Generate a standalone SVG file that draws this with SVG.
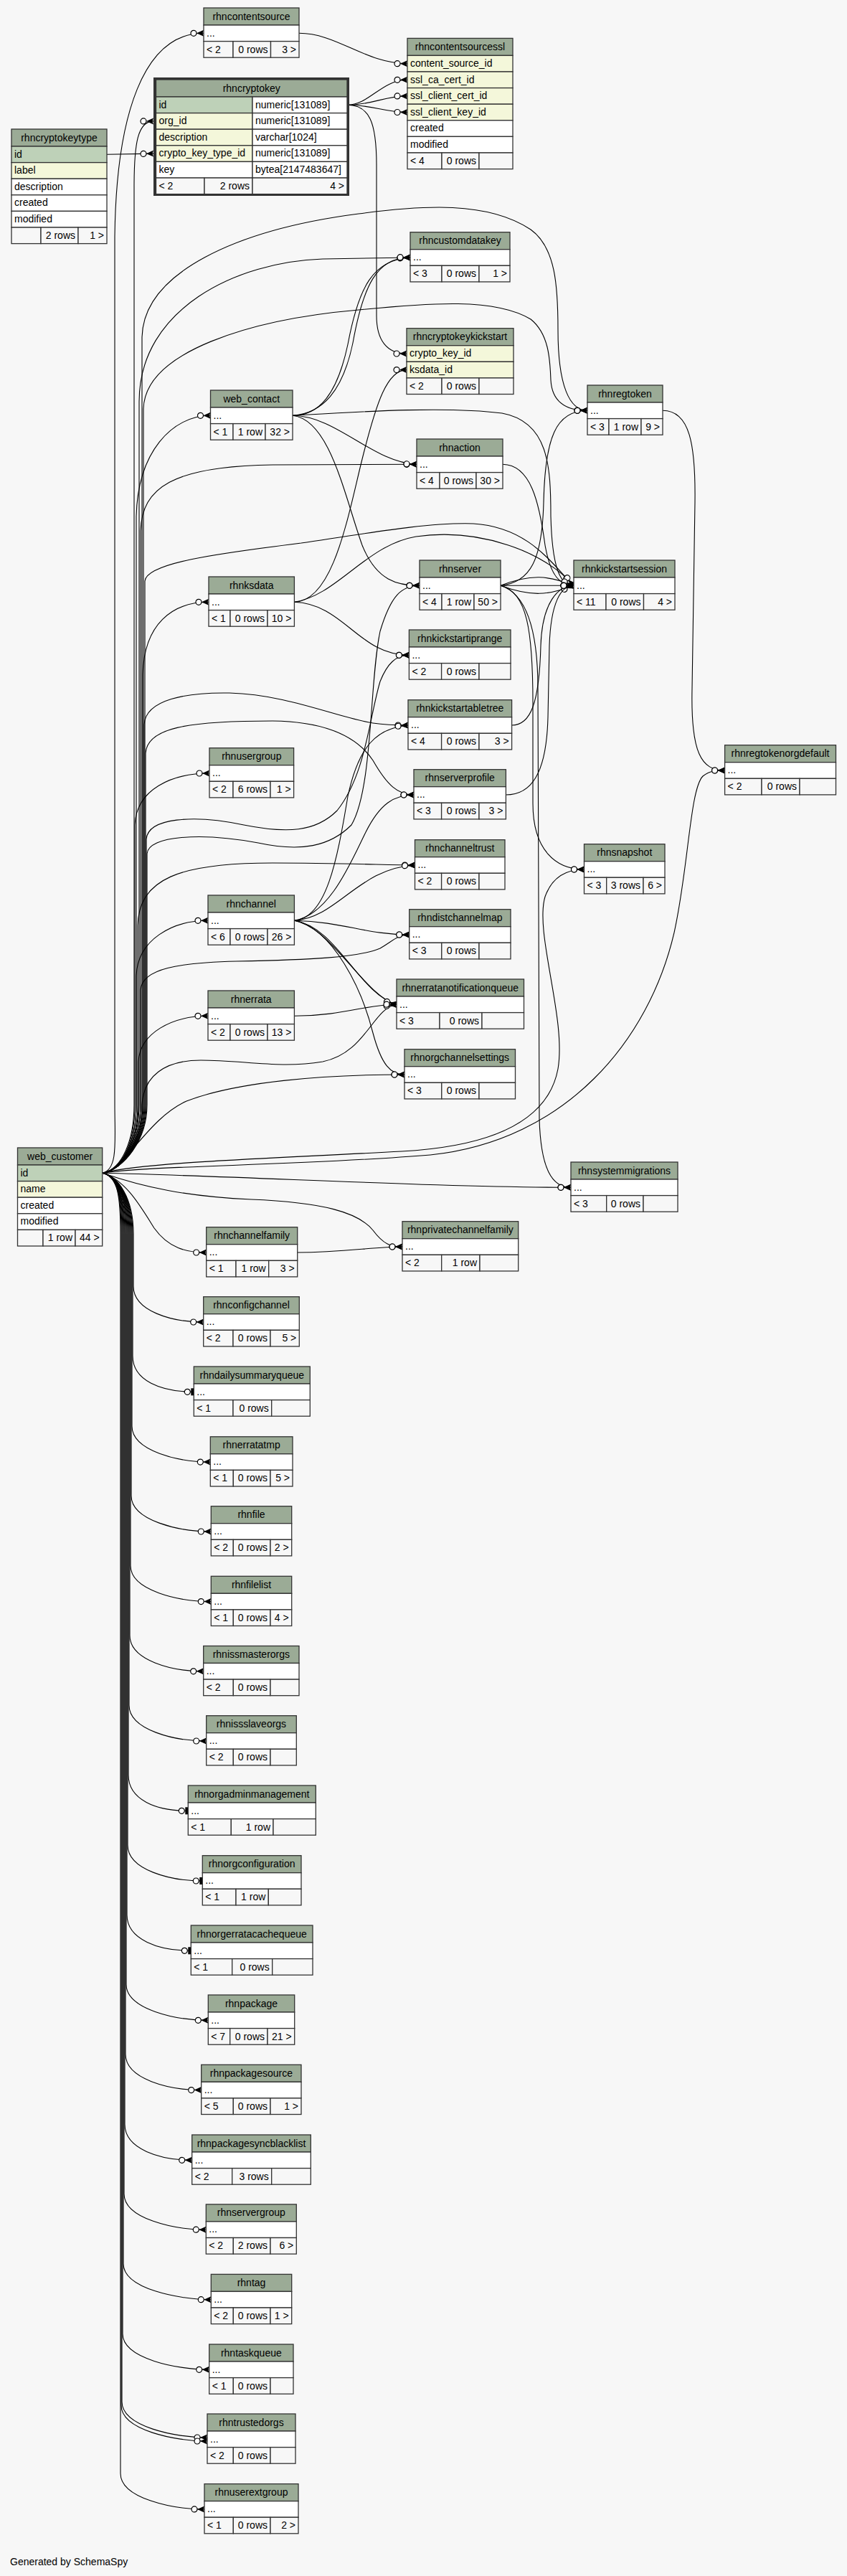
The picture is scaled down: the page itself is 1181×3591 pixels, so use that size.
<svg xmlns="http://www.w3.org/2000/svg" width="1181" height="3591" viewBox="0 0 1181 3591">
<style>
text{font-family:"Liberation Sans",Arial,Helvetica,sans-serif;font-size:14px;fill:#000}
.c{text-anchor:middle}
.n{text-anchor:end}
.h,.pk,.fk,.r,.f{stroke:#333;stroke-width:1.3}
.h{fill:#9bab96}
.pk{fill:#bed1b8}
.fk{fill:#f4f7da}
.r{fill:#fff}
.f{fill:#f7f7f7}
.e{fill:none;stroke:#000;stroke-width:1.1;marker-end:url(#crow)}
.t{marker-end:url(#tee)}
</style>
<defs>
<marker id="crow" viewBox="-20 -6 21 12" refX="0" refY="0" markerWidth="21" markerHeight="12" markerUnits="userSpaceOnUse" orient="auto">
<circle cx="-14" cy="0" r="4" fill="#fff" stroke="#000" stroke-width="1.2"/>
<polygon points="0,-4.5 -10,0 0,4.5 -1.5,0" fill="#000"/>
</marker>
<marker id="tee" viewBox="-20 -6 21 12" refX="0" refY="0" markerWidth="21" markerHeight="12" markerUnits="userSpaceOnUse" orient="auto">
<circle cx="-9" cy="0" r="4" fill="#fff" stroke="#000" stroke-width="1.2"/>
<rect x="-4" y="-5" width="4" height="10" fill="#000"/>
</marker>
</defs>
<rect x="0" y="0" width="1181" height="3591" fill="#f7f7f7"/>

<g id="connectors">
<path class="e" d="M417,46.3 C470,46.3 510,88.7 568,88.7"/>
<path class="e" d="M484,146.3 C515,146.3 532,111.3 568,111.3"/>
<path class="e" d="M484,146.3 C520,146.3 535,133.9 568,133.9"/>
<path class="e" d="M484,146.3 C520,146.3 535,156.5 568,156.5"/>
<path class="e" d="M484,146.3 C515,146.3 525,170 525,230 L525,440 C525,475 540,493 567,493"/>
<path class="e" d="M149,215.3 L214,214.1"/>
<path class="e" d="M143,1635.3 C165,1630 160,1590 160,1540 L160,330 C162,160 200,46.3 284,46.3"/>
<path class="e" d="M143,1635.3 C170,1630 187,1590 187,1540 L187,260 C187,200 192,168.9 214,168.9"/>
<path class="e" d="M143,1635.3 C172,1630 194,1590 194,1540 L194,560 C194,430 330,365 450,361 L572,359"/>
<path class="e" d="M143,1635.3 C172,1630 198,1590 198,1540 L198,470 C200,380 330,320 500,298 C590,286 680,280 740,320 C775,345 778,400 778,460 C778,540 795,572.3 819,572.3"/>
<path class="e" d="M143,1635.3 C172,1630 200,1590 200,1540 L200,570 C202,490 350,445 500,432 C600,422 690,415 740,445 C765,465 767,500 768,530 C770,565 795,572.3 819,572.3"/>
<path class="e" d="M143,1635.3 C172,1630 190,1590 190,1540 L190,720 C192,630 240,579.3 293.5,579.3"/>
<path class="e" d="M143,1635.3 C172,1630 196,1590 196,1540 L196,740 C198,680 240,650 380,648 L581,647.3"/>
<path class="e" d="M143,1635.3 C172,1630 202,1590 202,1540 L202,810 C204,785 300,772 420,757 C520,742 600,728 660,730 C740,735 772,790 800,816.3"/>
<path class="e" d="M143,1635.3 C172,1630 199,1590 199,1540 L199,940 C201,870 240,839.3 291,839.3"/>
<path class="e" d="M143,1635.3 C172,1630 201,1590 201,1540 L201,1010 C203,975 260,965 320,966 C400,968 470,1000 520,1008 C540,1011 555,1011 569,1011"/>
<path class="e" d="M143,1635.3 C172,1630 203,1590 203,1540 L203,1050 C205,1015 260,1005 380,1005 C460,1006 500,1030 520,1060 C540,1095 555,1108 577,1108"/>
<path class="e" d="M143,1635.3 C172,1630 188,1590 188,1540 L188,1150 C190,1100 240,1078 292,1078"/>
<path class="e" d="M143,1635.3 C172,1630 204,1590 204,1540 L204,1170 C206,1140 270,1135 340,1150 C400,1162 440,1160 470,1130 C510,1080 515,1000 530,950 C540,925 552,913.3 570.4,913.3"/>
<path class="e" d="M143,1635.3 C172,1630 205,1590 205,1540 L205,1190 C207,1165 280,1160 360,1175 C420,1188 460,1180 490,1150 C520,1100 515,950 530,880 C545,830 560,816.3 585,816.3"/>
<path class="e" d="M143,1635.3 C172,1630 192,1590 192,1540 L192,1290 C194,1225 250,1203 380,1203 C480,1203 540,1206 578.5,1206"/>
<path class="e" d="M143,1635.3 C172,1630 190,1590 190,1540 L190,1360 C192,1310 240,1283.3 290,1283.3"/>
<path class="e" d="M143,1635.3 C172,1630 196,1590 196,1540 L196,1380 C198,1350 250,1342 330,1340 C430,1338 500,1335 530,1322 C550,1310 555,1303 570.7,1303"/>
<path class="e" d="M143,1635.3 C172,1630 193,1590 193,1540 L193,1480 C195,1440 240,1416.3 290,1416.3"/>
<path class="e" d="M143,1635.3 C172,1630 198,1590 198,1540 C200,1500 230,1478 280,1478 C340,1478 390,1490 450,1480 C510,1468 520,1405 553,1400.3"/>
<path class="e" d="M143,1635.3 C175,1630 205,1560 260,1535 C330,1508 450,1498 564,1498"/>
<path class="e" d="M143,1635.3 C200,1620 380,1615 560,1605 C690,1598 765,1560 778,1490 C790,1420 745,1300 760,1250 C770,1222 790,1212 814.5,1212"/>
<path class="e" d="M143,1635.3 C200,1625 420,1625 600,1610 C790,1590 905,1450 940,1300 C960,1210 962,1100 980,1082 C990,1074 1000,1074 1010.6,1074"/>
<path class="e" d="M143,1635.3 C350,1640 600,1655 796,1655.3"/>
<path class="e" d="M143,1635.3 C200,1655 260,1668 350,1672 C450,1676 500,1690 520,1715 C535,1735 545,1738 561,1738"/>
<path class="e" d="M143,1635.3 C175,1645 195,1680 215,1712 C235,1740 260,1746 287.7,1746"/>
<path class="e" d="M408,579.3 C445,579 470,550 485,480 C500,400 520,362 572,359"/>
<path class="e" d="M408,579.3 C450,576 478,545 492,478 C506,400 525,358 572,359"/>
<path class="e" d="M408,579.3 C470,580 520,645 581,647.3"/>
<path class="e" d="M408,579.3 C500,574 620,566 700,576 C765,588 768,650 768,720 C770,795 782,816.3 800,816.3"/>
<path class="e" d="M408,579.3 C460,585 480,690 505,760 C525,810 555,816.3 585,816.3"/>
<path class="e" d="M410.4,839.3 C465,838 485,720 505,640 C525,560 540,515.6 567,515.6"/>
<path class="e" d="M410.4,839.3 C470,830 510,760 580,748 C670,735 760,770 800,816.3"/>
<path class="e" d="M410.4,839.3 C480,842 500,913.3 570.4,913.3"/>
<path class="e" d="M698,816.3 C740,800 765,802 800,816.3"/>
<path class="e" d="M698,816.3 L800,816.3"/>
<path class="e" d="M698,816.3 C740,832 765,830 800,816.3"/>
<path class="e" d="M698,816.3 C740,812 756,780 758,700 C760,610 775,572.3 819,572.3"/>
<path class="e" d="M698,816.3 C735,825 743,880 743,980 L743,1120 C743,1185 775,1212 814.5,1212"/>
<path class="e" d="M698,816.3 C735,828 750,880 750,960 L752,1560 C754,1630 770,1655.3 796,1655.3"/>
<path class="e" d="M701,647.3 C740,648 752,700 760,760 C768,805 782,816.3 800,816.3"/>
<path class="e" d="M713.6,1011 C740,1011 752,980 754,900 C756,840 778,816.3 800,816.3"/>
<path class="e" d="M705.4,1108 C740,1108 762,1080 764,1000 L766,900 C768,840 782,816.3 800,816.3"/>
<path class="e" d="M924,572.3 C962,572.3 970,620 969,700 L965,960 C963,1050 978,1074 1010.6,1074"/>
<path class="e" d="M410.4,1283.3 C455,1280 470,1200 485,1110 C500,1040 525,1015 569,1011"/>
<path class="e" d="M410.4,1283.3 C460,1275 490,1200 510,1160 C530,1120 550,1108 577,1108"/>
<path class="e" d="M410.4,1283.3 C470,1280 500,1210 578.5,1206"/>
<path class="e" d="M410.4,1283.3 C480,1285 510,1303 570.7,1303"/>
<path class="e" d="M410.4,1283.3 C460,1290 510,1390 553,1400.3"/>
<path class="e" d="M410.4,1283.3 C470,1292 500,1385 553,1400.3"/>
<path class="e" d="M410.4,1283.3 C465,1295 505,1380 520,1440 C532,1485 545,1498 564,1498"/>
<path class="e" d="M410.4,1416.3 C480,1416 510,1400 553,1400.3"/>
<path class="e" d="M414.7,1746 C480,1746 520,1738 561,1738"/>
<path class="e" d="M143,1635.3 C165,1640 186,1670 186,1720 L186,1793 C186,1828 240,1843 283.7,1843"/>
<path class="e t" d="M143,1635.3 C165,1640 185,1670 185,1720 L185,1890 C185,1925 225,1940.3 270.3,1940.3"/>
<path class="e" d="M143,1635.3 C165,1640 184,1670 184,1720 L184,1988 C184,2023 250,2038.1 293.3,2038.1"/>
<path class="e" d="M143,1635.3 C165,1640 183,1670 183,1720 L183,2085 C183,2120 250,2135 294.3,2135"/>
<path class="e" d="M143,1635.3 C165,1640 182,1670 182,1720 L182,2182.6 C182,2217.6 250,2232.6 294.3,2232.6"/>
<path class="e" d="M143,1635.3 C165,1640 181,1670 181,1720 L181,2279.8 C181,2314.8 240,2329.8 283.7,2329.8"/>
<path class="e" d="M143,1635.3 C165,1640 180,1670 180,1720 L180,2377 C180,2412 244,2427 287.7,2427"/>
<path class="e t" d="M143,1635.3 C165,1640 179,1670 179,1720 L179,2474.3 C179,2509.3 218,2524.3 262.3,2524.3"/>
<path class="e t" d="M143,1635.3 C165,1640 178,1670 178,1720 L178,2572 C178,2607 238,2622 282.3,2622"/>
<path class="e t" d="M143,1635.3 C165,1640 177,1670 177,1720 L177,2669.3 C177,2704.3 222,2719.3 266.3,2719.3"/>
<path class="e" d="M143,1635.3 C165,1640 176,1670 176,1720 L176,2766.3 C176,2801.3 246,2816.3 290.3,2816.3"/>
<path class="e" d="M143,1635.3 C165,1640 175,1670 175,1720 L175,2863.6 C175,2898.6 236,2913.6 280.7,2913.6"/>
<path class="e" d="M143,1635.3 C165,1640 174,1670 174,1720 L174,2961.3 C174,2996.3 224,3011.3 267.7,3011.3"/>
<path class="e" d="M143,1635.3 C165,1640 173,1670 173,1720 L173,3058.2 C173,3093.2 243,3108.2 287.3,3108.2"/>
<path class="e" d="M143,1635.3 C165,1640 172,1670 172,1720 L172,3155.7 C172,3190.7 250,3205.7 294.3,3205.7"/>
<path class="e" d="M143,1635.3 C165,1640 171,1670 171,1720 L171,3253.3 C171,3288.3 248,3303.3 291.7,3303.3"/>
<path class="e" d="M143,1635.3 C165,1640 170,1670 170,1720 L170,3348 C170,3383 245,3398 289,3398"/>
<path class="e" d="M143,1635.3 C165,1640 169,1670 169,1720 L169,3353 C169,3388 245,3403 289,3403"/>
<path class="e" d="M143,1635.3 C165,1640 168,1670 168,1720 L168,3447.9 C168,3482.9 241,3497.9 285,3497.9"/>
</g>

<g id="rhncontentsource">
<rect class="h" x="284" y="11" width="133" height="24"/><text class="c" x="350.5" y="27.5">rhncontentsource</text>
<rect class="r" x="284" y="35" width="133" height="22.6"/><text x="288" y="50.5">...</text>
<rect class="f" x="284" y="57.6" width="41" height="22.6"/><rect class="f" x="325" y="57.6" width="52.5" height="22.6"/><rect class="f" x="377.5" y="57.6" width="39.5" height="22.6"/>
<text x="288" y="73.5">&lt; 2</text><text class="n" x="373.5" y="73.5">0 rows</text><text class="n" x="413" y="73.5">3 &gt;</text>
</g>

<g id="rhncontentsourcessl">
<rect class="h" x="568" y="53.4" width="147" height="24"/><text class="c" x="641.5" y="69.9">rhncontentsourcessl</text>
<rect class="fk" x="568" y="77.4" width="147" height="22.6"/><text x="572" y="92.9">content_source_id</text>
<rect class="fk" x="568" y="100" width="147" height="22.6"/><text x="572" y="115.5">ssl_ca_cert_id</text>
<rect class="fk" x="568" y="122.6" width="147" height="22.6"/><text x="572" y="138.1">ssl_client_cert_id</text>
<rect class="fk" x="568" y="145.2" width="147" height="22.6"/><text x="572" y="160.7">ssl_client_key_id</text>
<rect class="r" x="568" y="167.8" width="147" height="22.6"/><text x="572" y="183.3">created</text>
<rect class="r" x="568" y="190.4" width="147" height="22.6"/><text x="572" y="205.9">modified</text>
<rect class="f" x="568" y="213" width="48" height="22.6"/><rect class="f" x="616" y="213" width="52" height="22.6"/><rect class="f" x="668" y="213" width="47" height="22.6"/>
<text x="572" y="229">&lt; 4</text><text class="n" x="664" y="229">0 rows</text>
</g>

<g id="rhncryptokey">
<rect x="215.5" y="109.5" width="270" height="162" fill="none" stroke="#333" stroke-width="3"/>
<rect class="h" x="217.5" y="111" width="266.5" height="24"/><text class="c" x="350.75" y="127.5">rhncryptokey</text>
<rect class="pk" x="217.5" y="135" width="134.5" height="22.6"/><rect class="r" x="352" y="135" width="132" height="22.6"/><text x="221.5" y="150.5">id</text><text x="356" y="150.5">numeric[131089]</text>
<rect class="fk" x="217.5" y="157.6" width="134.5" height="22.6"/><rect class="r" x="352" y="157.6" width="132" height="22.6"/><text x="221.5" y="173.1">org_id</text><text x="356" y="173.1">numeric[131089]</text>
<rect class="fk" x="217.5" y="180.2" width="134.5" height="22.6"/><rect class="r" x="352" y="180.2" width="132" height="22.6"/><text x="221.5" y="195.7">description</text><text x="356" y="195.7">varchar[1024]</text>
<rect class="fk" x="217.5" y="202.8" width="134.5" height="22.6"/><rect class="r" x="352" y="202.8" width="132" height="22.6"/><text x="221.5" y="218.3">crypto_key_type_id</text><text x="356" y="218.3">numeric[131089]</text>
<rect class="r" x="217.5" y="225.4" width="134.5" height="22.6"/><rect class="r" x="352" y="225.4" width="132" height="22.6"/><text x="221.5" y="240.9">key</text><text x="356" y="240.9">bytea[2147483647]</text>
<rect class="f" x="217.5" y="248" width="67.5" height="22.6"/><rect class="f" x="285" y="248" width="67" height="22.6"/><rect class="f" x="352" y="248" width="132" height="22.6"/>
<text x="221.5" y="264">&lt; 2</text><text class="n" x="348" y="264">2 rows</text><text class="n" x="480" y="264">4 &gt;</text>
</g>

<g id="rhncryptokeytype">
<rect class="h" x="16" y="180" width="133" height="24"/><text class="c" x="82.5" y="196.5">rhncryptokeytype</text>
<rect class="pk" x="16" y="204" width="133" height="22.6"/><text x="20" y="219.5">id</text>
<rect class="fk" x="16" y="226.6" width="133" height="22.6"/><text x="20" y="242.1">label</text>
<rect class="r" x="16" y="249.2" width="133" height="22.6"/><text x="20" y="264.7">description</text>
<rect class="r" x="16" y="271.8" width="133" height="22.6"/><text x="20" y="287.3">created</text>
<rect class="r" x="16" y="294.4" width="133" height="22.6"/><text x="20" y="309.9">modified</text>
<rect class="f" x="16" y="317" width="41" height="22.6"/><rect class="f" x="57" y="317" width="52" height="22.6"/><rect class="f" x="109" y="317" width="40" height="22.6"/>
<text class="n" x="105" y="333">2 rows</text><text class="n" x="145" y="333">1 &gt;</text>
</g>

<g id="rhncustomdatakey">
<rect class="h" x="572" y="323.7" width="139" height="24"/><text class="c" x="641.5" y="340.2">rhncustomdatakey</text>
<rect class="r" x="572" y="347.7" width="139" height="22.6"/><text x="576" y="363.2">...</text>
<rect class="f" x="572" y="370.3" width="44" height="22.6"/><rect class="f" x="616" y="370.3" width="52" height="22.6"/><rect class="f" x="668" y="370.3" width="43" height="22.6"/>
<text x="576" y="386.2">&lt; 3</text><text class="n" x="664" y="386.2">0 rows</text><text class="n" x="707" y="386.2">1 &gt;</text>
</g>

<g id="rhncryptokeykickstart">
<rect class="h" x="567" y="457.7" width="149" height="24"/><text class="c" x="641.5" y="474.2">rhncryptokeykickstart</text>
<rect class="fk" x="567" y="481.7" width="149" height="22.6"/><text x="571" y="497.2">crypto_key_id</text>
<rect class="fk" x="567" y="504.3" width="149" height="22.6"/><text x="571" y="519.8">ksdata_id</text>
<rect class="f" x="567" y="526.9" width="49" height="22.6"/><rect class="f" x="616" y="526.9" width="52" height="22.6"/><rect class="f" x="668" y="526.9" width="48" height="22.6"/>
<text x="571" y="542.8">&lt; 2</text><text class="n" x="664" y="542.8">0 rows</text>
</g>

<g id="web_contact">
<rect class="h" x="293.5" y="544" width="114.5" height="24"/><text class="c" x="350.75" y="560.5">web_contact</text>
<rect class="r" x="293.5" y="568" width="114.5" height="22.6"/><text x="297.5" y="583.5">...</text>
<rect class="f" x="293.5" y="590.6" width="31.5" height="22.6"/><rect class="f" x="325" y="590.6" width="45" height="22.6"/><rect class="f" x="370" y="590.6" width="38" height="22.6"/>
<text x="297.5" y="606.5">&lt; 1</text><text class="n" x="366" y="606.5">1 row</text><text class="n" x="404" y="606.5">32 &gt;</text>
</g>

<g id="rhnregtoken">
<rect class="h" x="819" y="537" width="105" height="24"/><text class="c" x="871.5" y="553.5">rhnregtoken</text>
<rect class="r" x="819" y="561" width="105" height="22.6"/><text x="823" y="576.5">...</text>
<rect class="f" x="819" y="583.6" width="30" height="22.6"/><rect class="f" x="849" y="583.6" width="45" height="22.6"/><rect class="f" x="894" y="583.6" width="30" height="22.6"/>
<text x="823" y="599.5">&lt; 3</text><text class="n" x="890" y="599.5">1 row</text><text class="n" x="920" y="599.5">9 &gt;</text>
</g>

<g id="rhnaction">
<rect class="h" x="581" y="612" width="120" height="24"/><text class="c" x="641" y="628.5">rhnaction</text>
<rect class="r" x="581" y="636" width="120" height="22.6"/><text x="585" y="651.5">...</text>
<rect class="f" x="581" y="658.6" width="32" height="22.6"/><rect class="f" x="613" y="658.6" width="51" height="22.6"/><rect class="f" x="664" y="658.6" width="37" height="22.6"/>
<text x="585" y="674.5">&lt; 4</text><text class="n" x="660" y="674.5">0 rows</text><text class="n" x="697" y="674.5">30 &gt;</text>
</g>

<g id="rhnserver">
<rect class="h" x="585" y="781" width="113" height="24"/><text class="c" x="641.5" y="797.5">rhnserver</text>
<rect class="r" x="585" y="805" width="113" height="22.6"/><text x="589" y="820.5">...</text>
<rect class="f" x="585" y="827.6" width="31" height="22.6"/><rect class="f" x="616" y="827.6" width="45" height="22.6"/><rect class="f" x="661" y="827.6" width="37" height="22.6"/>
<text x="589" y="843.5">&lt; 4</text><text class="n" x="657" y="843.5">1 row</text><text class="n" x="694" y="843.5">50 &gt;</text>
</g>

<g id="rhnkickstartsession">
<rect class="h" x="800" y="781" width="141" height="24"/><text class="c" x="870.5" y="797.5">rhnkickstartsession</text>
<rect class="r" x="800" y="805" width="141" height="22.6"/><text x="804" y="820.5">...</text>
<rect class="f" x="800" y="827.6" width="45" height="22.6"/><rect class="f" x="845" y="827.6" width="52.5" height="22.6"/><rect class="f" x="897.5" y="827.6" width="43.5" height="22.6"/>
<text x="804" y="843.5">&lt; 11</text><text class="n" x="893.5" y="843.5">0 rows</text><text class="n" x="937" y="843.5">4 &gt;</text>
</g>

<g id="rhnksdata">
<rect class="h" x="291" y="804" width="119.4" height="24"/><text class="c" x="350.7" y="820.5">rhnksdata</text>
<rect class="r" x="291" y="828" width="119.4" height="22.6"/><text x="295" y="843.5">...</text>
<rect class="f" x="291" y="850.6" width="30" height="22.6"/><rect class="f" x="321" y="850.6" width="52" height="22.6"/><rect class="f" x="373" y="850.6" width="37.4" height="22.6"/>
<text x="295" y="866.5">&lt; 1</text><text class="n" x="369" y="866.5">0 rows</text><text class="n" x="406.4" y="866.5">10 &gt;</text>
</g>

<g id="rhnkickstartiprange">
<rect class="h" x="570.4" y="878" width="141.6" height="24"/><text class="c" x="641.2" y="894.5">rhnkickstartiprange</text>
<rect class="r" x="570.4" y="902" width="141.6" height="22.6"/><text x="574.4" y="917.5">...</text>
<rect class="f" x="570.4" y="924.6" width="45.2" height="22.6"/><rect class="f" x="615.6" y="924.6" width="52.4" height="22.6"/><rect class="f" x="668" y="924.6" width="44" height="22.6"/>
<text x="574.4" y="940.5">&lt; 2</text><text class="n" x="664" y="940.5">0 rows</text>
</g>

<g id="rhnkickstartabletree">
<rect class="h" x="569" y="975.7" width="144.6" height="24"/><text class="c" x="641.3" y="992.2">rhnkickstartabletree</text>
<rect class="r" x="569" y="999.7" width="144.6" height="22.6"/><text x="573" y="1015.2">...</text>
<rect class="f" x="569" y="1022.3" width="46.6" height="22.6"/><rect class="f" x="615.6" y="1022.3" width="52.4" height="22.6"/><rect class="f" x="668" y="1022.3" width="45.6" height="22.6"/>
<text x="573" y="1038.2">&lt; 4</text><text class="n" x="664" y="1038.2">0 rows</text><text class="n" x="709.6" y="1038.2">3 &gt;</text>
</g>

<g id="rhnusergroup">
<rect class="h" x="292" y="1042.7" width="117.6" height="24"/><text class="c" x="350.8" y="1059.2">rhnusergroup</text>
<rect class="r" x="292" y="1066.7" width="117.6" height="22.6"/><text x="296" y="1082.2">...</text>
<rect class="f" x="292" y="1089.3" width="33" height="22.6"/><rect class="f" x="325" y="1089.3" width="52" height="22.6"/><rect class="f" x="377" y="1089.3" width="32.6" height="22.6"/>
<text x="296" y="1105.2">&lt; 2</text><text class="n" x="373" y="1105.2">6 rows</text><text class="n" x="405.6" y="1105.2">1 &gt;</text>
</g>

<g id="rhnserverprofile">
<rect class="h" x="577" y="1072.7" width="128.4" height="24"/><text class="c" x="641.2" y="1089.2">rhnserverprofile</text>
<rect class="r" x="577" y="1096.7" width="128.4" height="22.6"/><text x="581" y="1112.2">...</text>
<rect class="f" x="577" y="1119.3" width="38.6" height="22.6"/><rect class="f" x="615.6" y="1119.3" width="52.4" height="22.6"/><rect class="f" x="668" y="1119.3" width="37.4" height="22.6"/>
<text x="581" y="1135.2">&lt; 3</text><text class="n" x="664" y="1135.2">0 rows</text><text class="n" x="701.4" y="1135.2">3 &gt;</text>
</g>

<g id="rhnchanneltrust">
<rect class="h" x="578.5" y="1170.7" width="125.5" height="24"/><text class="c" x="641.25" y="1187.2">rhnchanneltrust</text>
<rect class="r" x="578.5" y="1194.7" width="125.5" height="22.6"/><text x="582.5" y="1210.2">...</text>
<rect class="f" x="578.5" y="1217.3" width="37.1" height="22.6"/><rect class="f" x="615.6" y="1217.3" width="52.4" height="22.6"/><rect class="f" x="668" y="1217.3" width="36" height="22.6"/>
<text x="582.5" y="1233.2">&lt; 2</text><text class="n" x="664" y="1233.2">0 rows</text>
</g>

<g id="rhnsnapshot">
<rect class="h" x="814.5" y="1176.7" width="112.5" height="24"/><text class="c" x="870.75" y="1193.2">rhnsnapshot</text>
<rect class="r" x="814.5" y="1200.7" width="112.5" height="22.6"/><text x="818.5" y="1216.2">...</text>
<rect class="f" x="814.5" y="1223.3" width="31.2" height="22.6"/><rect class="f" x="845.7" y="1223.3" width="51.3" height="22.6"/><rect class="f" x="897" y="1223.3" width="30" height="22.6"/>
<text x="818.5" y="1239.2">&lt; 3</text><text class="n" x="893" y="1239.2">3 rows</text><text class="n" x="923" y="1239.2">6 &gt;</text>
</g>

<g id="rhnregtokenorgdefault">
<rect class="h" x="1010.6" y="1038.7" width="154.9" height="24"/><text class="c" x="1088" y="1055.2">rhnregtokenorgdefault</text>
<rect class="r" x="1010.6" y="1062.7" width="154.9" height="22.6"/><text x="1014.6" y="1078.2">...</text>
<rect class="f" x="1010.6" y="1085.3" width="51.4" height="22.6"/><rect class="f" x="1062" y="1085.3" width="53" height="22.6"/><rect class="f" x="1115" y="1085.3" width="50.5" height="22.6"/>
<text x="1014.6" y="1101.2">&lt; 2</text><text class="n" x="1111" y="1101.2">0 rows</text>
</g>

<g id="rhnchannel">
<rect class="h" x="290" y="1248" width="120.4" height="24"/><text class="c" x="350.2" y="1264.5">rhnchannel</text>
<rect class="r" x="290" y="1272" width="120.4" height="22.6"/><text x="294" y="1287.5">...</text>
<rect class="f" x="290" y="1294.6" width="31" height="22.6"/><rect class="f" x="321" y="1294.6" width="52" height="22.6"/><rect class="f" x="373" y="1294.6" width="37.4" height="22.6"/>
<text x="294" y="1310.5">&lt; 6</text><text class="n" x="369" y="1310.5">0 rows</text><text class="n" x="406.4" y="1310.5">26 &gt;</text>
</g>

<g id="rhndistchannelmap">
<rect class="h" x="570.7" y="1267.7" width="141.3" height="24"/><text class="c" x="641.35" y="1284.2">rhndistchannelmap</text>
<rect class="r" x="570.7" y="1291.7" width="141.3" height="22.6"/><text x="574.7" y="1307.2">...</text>
<rect class="f" x="570.7" y="1314.3" width="45.1" height="22.6"/><rect class="f" x="615.8" y="1314.3" width="52.2" height="22.6"/><rect class="f" x="668" y="1314.3" width="44" height="22.6"/>
<text x="574.7" y="1330.2">&lt; 3</text><text class="n" x="664" y="1330.2">0 rows</text>
</g>

<g id="rhnerrata">
<rect class="h" x="290" y="1381" width="120.4" height="24"/><text class="c" x="350.2" y="1397.5">rhnerrata</text>
<rect class="r" x="290" y="1405" width="120.4" height="22.6"/><text x="294" y="1420.5">...</text>
<rect class="f" x="290" y="1427.6" width="31" height="22.6"/><rect class="f" x="321" y="1427.6" width="52" height="22.6"/><rect class="f" x="373" y="1427.6" width="37.4" height="22.6"/>
<text x="294" y="1443.5">&lt; 2</text><text class="n" x="369" y="1443.5">0 rows</text><text class="n" x="406.4" y="1443.5">13 &gt;</text>
</g>

<g id="rhnerratanotificationqueue">
<rect class="h" x="553" y="1365" width="177.5" height="24"/><text class="c" x="641.75" y="1381.5">rhnerratanotificationqueue</text>
<rect class="r" x="553" y="1389" width="177.5" height="22.6"/><text x="557" y="1404.5">...</text>
<rect class="f" x="553" y="1411.6" width="60" height="22.6"/><rect class="f" x="613" y="1411.6" width="59" height="22.6"/><rect class="f" x="672" y="1411.6" width="58.5" height="22.6"/>
<text x="557" y="1427.5">&lt; 3</text><text class="n" x="668" y="1427.5">0 rows</text>
</g>

<g id="rhnorgchannelsettings">
<rect class="h" x="564" y="1462.7" width="154.5" height="24"/><text class="c" x="641.25" y="1479.2">rhnorgchannelsettings</text>
<rect class="r" x="564" y="1486.7" width="154.5" height="22.6"/><text x="568" y="1502.2">...</text>
<rect class="f" x="564" y="1509.3" width="51.8" height="22.6"/><rect class="f" x="615.8" y="1509.3" width="52.2" height="22.6"/><rect class="f" x="668" y="1509.3" width="50.5" height="22.6"/>
<text x="568" y="1525.2">&lt; 3</text><text class="n" x="664" y="1525.2">0 rows</text>
</g>

<g id="web_customer">
<rect class="h" x="24.5" y="1600" width="118.2" height="24"/><text class="c" x="83.6" y="1616.5">web_customer</text>
<rect class="pk" x="24.5" y="1624" width="118.2" height="22.6"/><text x="28.5" y="1639.5">id</text>
<rect class="fk" x="24.5" y="1646.6" width="118.2" height="22.6"/><text x="28.5" y="1662.1">name</text>
<rect class="r" x="24.5" y="1669.2" width="118.2" height="22.6"/><text x="28.5" y="1684.7">created</text>
<rect class="r" x="24.5" y="1691.8" width="118.2" height="22.6"/><text x="28.5" y="1707.3">modified</text>
<rect class="f" x="24.5" y="1714.4" width="35.5" height="22.6"/><rect class="f" x="60" y="1714.4" width="45" height="22.6"/><rect class="f" x="105" y="1714.4" width="37.7" height="22.6"/>
<text class="n" x="101" y="1730.3">1 row</text><text class="n" x="138.7" y="1730.3">44 &gt;</text>
</g>

<g id="rhnsystemmigrations">
<rect class="h" x="796" y="1620" width="149" height="24"/><text class="c" x="870.5" y="1636.5">rhnsystemmigrations</text>
<rect class="r" x="796" y="1644" width="149" height="22.6"/><text x="800" y="1659.5">...</text>
<rect class="f" x="796" y="1666.6" width="49.7" height="22.6"/><rect class="f" x="845.7" y="1666.6" width="51.3" height="22.6"/><rect class="f" x="897" y="1666.6" width="48" height="22.6"/>
<text x="800" y="1682.5">&lt; 3</text><text class="n" x="893" y="1682.5">0 rows</text>
</g>

<g id="rhnchannelfamily">
<rect class="h" x="287.7" y="1710.7" width="127" height="24"/><text class="c" x="351.2" y="1727.2">rhnchannelfamily</text>
<rect class="r" x="287.7" y="1734.7" width="127" height="22.6"/><text x="291.7" y="1750.2">...</text>
<rect class="f" x="287.7" y="1757.3" width="41.3" height="22.6"/><rect class="f" x="329" y="1757.3" width="45.7" height="22.6"/><rect class="f" x="374.7" y="1757.3" width="40" height="22.6"/>
<text x="291.7" y="1773.2">&lt; 1</text><text class="n" x="370.7" y="1773.2">1 row</text><text class="n" x="410.7" y="1773.2">3 &gt;</text>
</g>

<g id="rhnprivatechannelfamily">
<rect class="h" x="561" y="1702.7" width="161.7" height="24"/><text class="c" x="641.85" y="1719.2">rhnprivatechannelfamily</text>
<rect class="r" x="561" y="1726.7" width="161.7" height="22.6"/><text x="565" y="1742.2">...</text>
<rect class="f" x="561" y="1749.3" width="54.7" height="22.6"/><rect class="f" x="615.7" y="1749.3" width="53.3" height="22.6"/><rect class="f" x="669" y="1749.3" width="53.7" height="22.6"/>
<text x="565" y="1765.2">&lt; 2</text><text class="n" x="665" y="1765.2">1 row</text>
</g>

<g id="rhnconfigchannel">
<rect class="h" x="283.7" y="1807.7" width="133.6" height="24"/><text class="c" x="350.5" y="1824.2">rhnconfigchannel</text>
<rect class="r" x="283.7" y="1831.7" width="133.6" height="22.6"/><text x="287.7" y="1847.2">...</text>
<rect class="f" x="283.7" y="1854.3" width="41.3" height="22.6"/><rect class="f" x="325" y="1854.3" width="52" height="22.6"/><rect class="f" x="377" y="1854.3" width="40.3" height="22.6"/>
<text x="287.7" y="1870.2">&lt; 2</text><text class="n" x="373" y="1870.2">0 rows</text><text class="n" x="413.3" y="1870.2">5 &gt;</text>
</g>

<g id="rhndailysummaryqueue">
<rect class="h" x="270.3" y="1905" width="162" height="24"/><text class="c" x="351.3" y="1921.5">rhndailysummaryqueue</text>
<rect class="r" x="270.3" y="1929" width="162" height="22.6"/><text x="274.3" y="1944.5">...</text>
<rect class="f" x="270.3" y="1951.6" width="54.7" height="22.6"/><rect class="f" x="325" y="1951.6" width="53.7" height="22.6"/><rect class="f" x="378.7" y="1951.6" width="53.6" height="22.6"/>
<text x="274.3" y="1967.5">&lt; 1</text><text class="n" x="374.7" y="1967.5">0 rows</text>
</g>

<g id="rhnerratatmp">
<rect class="h" x="293.3" y="2002.8" width="114.7" height="24"/><text class="c" x="350.65" y="2019.3">rhnerratatmp</text>
<rect class="r" x="293.3" y="2026.8" width="114.7" height="22.6"/><text x="297.3" y="2042.3">...</text>
<rect class="f" x="293.3" y="2049.4" width="32" height="22.6"/><rect class="f" x="325.3" y="2049.4" width="51.7" height="22.6"/><rect class="f" x="377" y="2049.4" width="31" height="22.6"/>
<text x="297.3" y="2065.3">&lt; 1</text><text class="n" x="373" y="2065.3">0 rows</text><text class="n" x="404" y="2065.3">5 &gt;</text>
</g>

<g id="rhnfile">
<rect class="h" x="294.3" y="2099.7" width="112.4" height="24"/><text class="c" x="350.5" y="2116.2">rhnfile</text>
<rect class="r" x="294.3" y="2123.7" width="112.4" height="22.6"/><text x="298.3" y="2139.2">...</text>
<rect class="f" x="294.3" y="2146.3" width="31" height="22.6"/><rect class="f" x="325.3" y="2146.3" width="51.7" height="22.6"/><rect class="f" x="377" y="2146.3" width="29.7" height="22.6"/>
<text x="298.3" y="2162.2">&lt; 2</text><text class="n" x="373" y="2162.2">0 rows</text><text class="n" x="402.7" y="2162.2">2 &gt;</text>
</g>

<g id="rhnfilelist">
<rect class="h" x="294.3" y="2197.3" width="112.4" height="24"/><text class="c" x="350.5" y="2213.8">rhnfilelist</text>
<rect class="r" x="294.3" y="2221.3" width="112.4" height="22.6"/><text x="298.3" y="2236.8">...</text>
<rect class="f" x="294.3" y="2243.9" width="31" height="22.6"/><rect class="f" x="325.3" y="2243.9" width="51.7" height="22.6"/><rect class="f" x="377" y="2243.9" width="29.7" height="22.6"/>
<text x="298.3" y="2259.8">&lt; 1</text><text class="n" x="373" y="2259.8">0 rows</text><text class="n" x="402.7" y="2259.8">4 &gt;</text>
</g>

<g id="rhnissmasterorgs">
<rect class="h" x="283.7" y="2294.5" width="133.3" height="24"/><text class="c" x="350.35" y="2311">rhnissmasterorgs</text>
<rect class="r" x="283.7" y="2318.5" width="133.3" height="22.6"/><text x="287.7" y="2334">...</text>
<rect class="f" x="283.7" y="2341.1" width="41.6" height="22.6"/><rect class="f" x="325.3" y="2341.1" width="51.7" height="22.6"/><rect class="f" x="377" y="2341.1" width="40" height="22.6"/>
<text x="287.7" y="2357">&lt; 2</text><text class="n" x="373" y="2357">0 rows</text>
</g>

<g id="rhnissslaveorgs">
<rect class="h" x="287.7" y="2391.7" width="125.6" height="24"/><text class="c" x="350.5" y="2408.2">rhnissslaveorgs</text>
<rect class="r" x="287.7" y="2415.7" width="125.6" height="22.6"/><text x="291.7" y="2431.2">...</text>
<rect class="f" x="287.7" y="2438.3" width="37.6" height="22.6"/><rect class="f" x="325.3" y="2438.3" width="51.7" height="22.6"/><rect class="f" x="377" y="2438.3" width="36.3" height="22.6"/>
<text x="291.7" y="2454.2">&lt; 2</text><text class="n" x="373" y="2454.2">0 rows</text>
</g>

<g id="rhnorgadminmanagement">
<rect class="h" x="262.3" y="2489" width="178" height="24"/><text class="c" x="351.3" y="2505.5">rhnorgadminmanagement</text>
<rect class="r" x="262.3" y="2513" width="178" height="22.6"/><text x="266.3" y="2528.5">...</text>
<rect class="f" x="262.3" y="2535.6" width="60" height="22.6"/><rect class="f" x="322.3" y="2535.6" width="58.7" height="22.6"/><rect class="f" x="381" y="2535.6" width="59.3" height="22.6"/>
<text x="266.3" y="2551.5">&lt; 1</text><text class="n" x="377" y="2551.5">1 row</text>
</g>

<g id="rhnorgconfiguration">
<rect class="h" x="282.3" y="2586.7" width="137.7" height="24"/><text class="c" x="351.15" y="2603.2">rhnorgconfiguration</text>
<rect class="r" x="282.3" y="2610.7" width="137.7" height="22.6"/><text x="286.3" y="2626.2">...</text>
<rect class="f" x="282.3" y="2633.3" width="46.7" height="22.6"/><rect class="f" x="329" y="2633.3" width="45.3" height="22.6"/><rect class="f" x="374.3" y="2633.3" width="45.7" height="22.6"/>
<text x="286.3" y="2649.2">&lt; 1</text><text class="n" x="370.3" y="2649.2">1 row</text>
</g>

<g id="rhnorgerratacachequeue">
<rect class="h" x="266.3" y="2684" width="169.7" height="24"/><text class="c" x="351.15" y="2700.5">rhnorgerratacachequeue</text>
<rect class="r" x="266.3" y="2708" width="169.7" height="22.6"/><text x="270.3" y="2723.5">...</text>
<rect class="f" x="266.3" y="2730.6" width="57.4" height="22.6"/><rect class="f" x="323.7" y="2730.6" width="56" height="22.6"/><rect class="f" x="379.7" y="2730.6" width="56.3" height="22.6"/>
<text x="270.3" y="2746.5">&lt; 1</text><text class="n" x="375.7" y="2746.5">0 rows</text>
</g>

<g id="rhnpackage">
<rect class="h" x="290.3" y="2781" width="120.4" height="24"/><text class="c" x="350.5" y="2797.5">rhnpackage</text>
<rect class="r" x="290.3" y="2805" width="120.4" height="22.6"/><text x="294.3" y="2820.5">...</text>
<rect class="f" x="290.3" y="2827.6" width="30.4" height="22.6"/><rect class="f" x="320.7" y="2827.6" width="52.3" height="22.6"/><rect class="f" x="373" y="2827.6" width="37.7" height="22.6"/>
<text x="294.3" y="2843.5">&lt; 7</text><text class="n" x="369" y="2843.5">0 rows</text><text class="n" x="406.7" y="2843.5">21 &gt;</text>
</g>

<g id="rhnpackagesource">
<rect class="h" x="280.7" y="2878.3" width="139.3" height="24"/><text class="c" x="350.35" y="2894.8">rhnpackagesource</text>
<rect class="r" x="280.7" y="2902.3" width="139.3" height="22.6"/><text x="284.7" y="2917.8">...</text>
<rect class="f" x="280.7" y="2924.9" width="44.6" height="22.6"/><rect class="f" x="325.3" y="2924.9" width="51.7" height="22.6"/><rect class="f" x="377" y="2924.9" width="43" height="22.6"/>
<text x="284.7" y="2940.8">&lt; 5</text><text class="n" x="373" y="2940.8">0 rows</text><text class="n" x="416" y="2940.8">1 &gt;</text>
</g>

<g id="rhnpackagesyncblacklist">
<rect class="h" x="267.7" y="2976" width="165.6" height="24"/><text class="c" x="350.5" y="2992.5">rhnpackagesyncblacklist</text>
<rect class="r" x="267.7" y="3000" width="165.6" height="22.6"/><text x="271.7" y="3015.5">...</text>
<rect class="f" x="267.7" y="3022.6" width="56" height="22.6"/><rect class="f" x="323.7" y="3022.6" width="55" height="22.6"/><rect class="f" x="378.7" y="3022.6" width="54.6" height="22.6"/>
<text x="271.7" y="3038.5">&lt; 2</text><text class="n" x="374.7" y="3038.5">3 rows</text>
</g>

<g id="rhnservergroup">
<rect class="h" x="287.3" y="3072.9" width="126" height="24"/><text class="c" x="350.3" y="3089.4">rhnservergroup</text>
<rect class="r" x="287.3" y="3096.9" width="126" height="22.6"/><text x="291.3" y="3112.4">...</text>
<rect class="f" x="287.3" y="3119.5" width="38" height="22.6"/><rect class="f" x="325.3" y="3119.5" width="51.7" height="22.6"/><rect class="f" x="377" y="3119.5" width="36.3" height="22.6"/>
<text x="291.3" y="3135.4">&lt; 2</text><text class="n" x="373" y="3135.4">2 rows</text><text class="n" x="409.3" y="3135.4">6 &gt;</text>
</g>

<g id="rhntag">
<rect class="h" x="294.3" y="3170.4" width="112.4" height="24"/><text class="c" x="350.5" y="3186.9">rhntag</text>
<rect class="r" x="294.3" y="3194.4" width="112.4" height="22.6"/><text x="298.3" y="3209.9">...</text>
<rect class="f" x="294.3" y="3217" width="31" height="22.6"/><rect class="f" x="325.3" y="3217" width="51.7" height="22.6"/><rect class="f" x="377" y="3217" width="29.7" height="22.6"/>
<text x="298.3" y="3232.9">&lt; 2</text><text class="n" x="373" y="3232.9">0 rows</text><text class="n" x="402.7" y="3232.9">1 &gt;</text>
</g>

<g id="rhntaskqueue">
<rect class="h" x="291.7" y="3268" width="117.3" height="24"/><text class="c" x="350.35" y="3284.5">rhntaskqueue</text>
<rect class="r" x="291.7" y="3292" width="117.3" height="22.6"/><text x="295.7" y="3307.5">...</text>
<rect class="f" x="291.7" y="3314.6" width="33.6" height="22.6"/><rect class="f" x="325.3" y="3314.6" width="51.7" height="22.6"/><rect class="f" x="377" y="3314.6" width="32" height="22.6"/>
<text x="295.7" y="3330.5">&lt; 1</text><text class="n" x="373" y="3330.5">0 rows</text>
</g>

<g id="rhntrustedorgs">
<rect class="h" x="289" y="3365" width="123" height="24"/><text class="c" x="350.5" y="3381.5">rhntrustedorgs</text>
<rect class="r" x="289" y="3389" width="123" height="22.6"/><text x="293" y="3404.5">...</text>
<rect class="f" x="289" y="3411.6" width="36.3" height="22.6"/><rect class="f" x="325.3" y="3411.6" width="51.7" height="22.6"/><rect class="f" x="377" y="3411.6" width="35" height="22.6"/>
<text x="293" y="3427.5">&lt; 2</text><text class="n" x="373" y="3427.5">0 rows</text>
</g>

<g id="rhnuserextgroup">
<rect class="h" x="285" y="3462.6" width="131" height="24"/><text class="c" x="350.5" y="3479.1">rhnuserextgroup</text>
<rect class="r" x="285" y="3486.6" width="131" height="22.6"/><text x="289" y="3502.1">...</text>
<rect class="f" x="285" y="3509.2" width="40.3" height="22.6"/><rect class="f" x="325.3" y="3509.2" width="51.7" height="22.6"/><rect class="f" x="377" y="3509.2" width="39" height="22.6"/>
<text x="289" y="3525.1">&lt; 1</text><text class="n" x="373" y="3525.1">0 rows</text><text class="n" x="412" y="3525.1">2 &gt;</text>
</g>

<text x="14" y="3576">Generated by SchemaSpy</text>
</svg>
